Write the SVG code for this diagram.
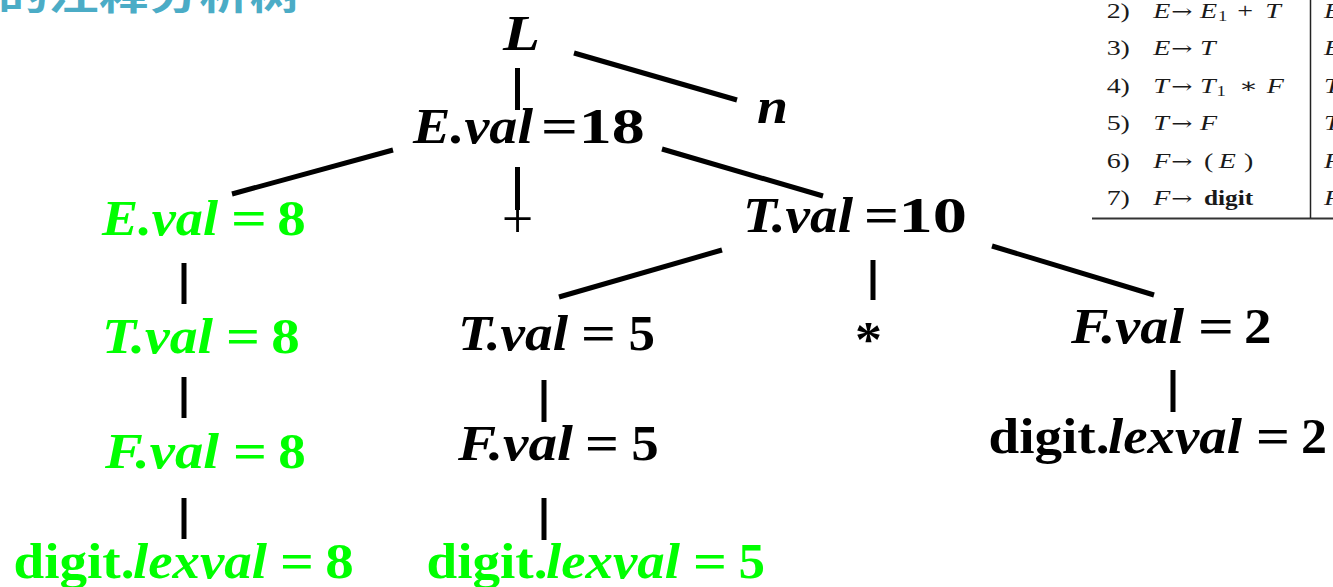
<svg xmlns="http://www.w3.org/2000/svg" width="1333" height="587" viewBox="0 0 1333 587">
<style>
.bi{font-family:"Liberation Serif","Times New Roman",serif;font-weight:bold;font-style:italic;font-size:51px}
.b{font-family:"Liberation Serif","Times New Roman",serif;font-weight:bold;font-size:51px}
.k{fill:#000}
.g{fill:#00FF00}
.edge{stroke:#000;stroke-width:5;fill:none}
.tb{font-family:"Liberation Serif","DejaVu Serif",serif;font-size:21px;fill:#1a1a1a}
.ti{font-style:italic}
.ar{font-family:"DejaVu Serif",serif;font-size:19px}
.title{font-family:"Noto Sans CJK SC","Noto Sans",sans-serif;font-weight:bold;font-size:38px;fill:#4BACC6}
</style>
<rect width="1333" height="587" fill="#fff"/>
<g id="title"><text class="title" x="-2" y="9" textLength="302" lengthAdjust="spacingAndGlyphs">的注释分析树</text></g>
<g id="grammar-table">
<line x1="1092" y1="218.5" x2="1333" y2="218.5" stroke="#333" stroke-width="2"/>
<line x1="1310.5" y1="0" x2="1310.5" y2="218" stroke="#222" stroke-width="1.5"/>
<g transform="matrix(1.3333 0 0 1 0 0)" class="tb">
<text x="830" y="18">2)</text><text class="ti" x="865" y="18">E</text><text class="ar" x="878.5" y="18">→</text><text class="ti" x="900" y="18">E</text><text x="913.5" y="21" font-size="14">1</text><text x="928" y="18">+</text><text class="ti" x="949" y="18">T</text><text class="ti" x="993" y="18">E</text>
<text x="830" y="55.4">3)</text><text class="ti" x="865" y="55.4">E</text><text class="ar" x="878.5" y="55.4">→</text><text class="ti" x="900" y="55.4">T</text><text class="ti" x="993" y="55.4">E</text>
<text x="830" y="92.8">4)</text><text class="ti" x="865" y="92.8">T</text><text class="ar" x="878.5" y="92.8">→</text><text class="ti" x="900" y="92.8">T</text><text x="912.5" y="96" font-size="14">1</text><text x="929" y="92.8">∗</text><text class="ti" x="950" y="92.8">F</text><text class="ti" x="993" y="92.8">T</text>
<text x="830" y="130.2">5)</text><text class="ti" x="865" y="130.2">T</text><text class="ar" x="878.5" y="130.2">→</text><text class="ti" x="900" y="130.2">F</text><text class="ti" x="993" y="130.2">T</text>
<text x="830" y="167.6">6)</text><text class="ti" x="865" y="167.6">F</text><text class="ar" x="878.5" y="167.6">→</text><text x="903" y="167.6">(</text><text class="ti" x="914" y="167.6">E</text><text x="933" y="167.6">)</text><text class="ti" x="993" y="167.6">F</text>
<text x="830" y="205">7)</text><text class="ti" x="865" y="205">F</text><text class="ar" x="878.5" y="205">→</text><text x="903" y="205" font-weight="bold" textLength="37" lengthAdjust="spacingAndGlyphs">digit</text><text class="ti" x="993" y="205">F</text>
</g>
</g>
<g id="connectors" class="edge">
<line x1="517.5" y1="68" x2="517.5" y2="110"/>
<line x1="574" y1="53" x2="737" y2="100"/>
<line x1="517.5" y1="167" x2="517.5" y2="210"/>
<line x1="393" y1="150" x2="232" y2="194"/>
<line x1="662" y1="149" x2="823" y2="196"/>
<line x1="184" y1="263" x2="184" y2="304"/>
<line x1="184" y1="377" x2="184" y2="418"/>
<line x1="184" y1="498" x2="184" y2="539"/>
<line x1="722" y1="250" x2="559" y2="297"/>
<line x1="873" y1="260" x2="873" y2="300"/>
<line x1="992" y1="246" x2="1154" y2="295"/>
<line x1="544" y1="380" x2="544" y2="422"/>
<line x1="544" y1="498" x2="544" y2="540"/>
<line x1="1173" y1="370" x2="1173" y2="412"/>
</g>
<g id="node-L" class="k"><text class="bi" x="503" y="50" textLength="37" lengthAdjust="spacingAndGlyphs">L</text></g>
<g id="node-n" class="k"><text class="bi" x="757" y="123" textLength="31" lengthAdjust="spacingAndGlyphs">n</text></g>
<g id="node-E18" class="k">
<text class="bi" x="413" y="143" textLength="120" lengthAdjust="spacingAndGlyphs">E.val</text>
<text class="b" x="541" y="143" textLength="37" lengthAdjust="spacingAndGlyphs">=</text>
<text class="b" x="578.7" y="143" textLength="66" lengthAdjust="spacingAndGlyphs">18</text>
</g>
<g id="node-E8" class="g">
<text class="bi" x="102" y="235" textLength="116" lengthAdjust="spacingAndGlyphs">E.val</text>
<text class="b" x="231" y="235" textLength="36" lengthAdjust="spacingAndGlyphs">=</text>
<text class="b" x="277.2" y="235" textLength="28.5" lengthAdjust="spacingAndGlyphs">8</text>
</g>
<g id="node-plus" class="k"><text x="517.5" y="238" text-anchor="middle" font-family="Liberation Serif,serif" font-size="56">+</text></g>
<g id="node-T10" class="k">
<text class="bi" x="743" y="232" textLength="110" lengthAdjust="spacingAndGlyphs">T.val</text>
<text class="b" x="864" y="232" textLength="35" lengthAdjust="spacingAndGlyphs">=</text>
<text class="b" x="898.5" y="232" textLength="68.5" lengthAdjust="spacingAndGlyphs">10</text>
</g>
<g id="node-T8" class="g">
<text class="bi" x="102" y="353" textLength="111" lengthAdjust="spacingAndGlyphs">T.val</text>
<text class="b" x="226" y="353" textLength="34" lengthAdjust="spacingAndGlyphs">=</text>
<text class="b" x="271.2" y="353" textLength="28.5" lengthAdjust="spacingAndGlyphs">8</text>
</g>
<g id="node-T5" class="k">
<text class="bi" x="458" y="350" textLength="110" lengthAdjust="spacingAndGlyphs">T.val</text>
<text class="b" x="581" y="350" textLength="35" lengthAdjust="spacingAndGlyphs">=</text>
<text class="b" x="628.4" y="350" textLength="26.5" lengthAdjust="spacingAndGlyphs">5</text>
</g>
<g id="node-star" class="k"><text class="b" x="855" y="355.5" textLength="27" lengthAdjust="spacingAndGlyphs">*</text></g>
<g id="node-F2" class="k">
<text class="bi" x="1071" y="343" textLength="113" lengthAdjust="spacingAndGlyphs">F.val</text>
<text class="b" x="1198" y="343" textLength="36" lengthAdjust="spacingAndGlyphs">=</text>
<text class="b" x="1244" y="343" textLength="27.5" lengthAdjust="spacingAndGlyphs">2</text>
</g>
<g id="node-digit2" class="k">
<text class="b" x="988.5" y="453" textLength="121" lengthAdjust="spacingAndGlyphs">digit.</text>
<text class="bi" x="1108" y="453" textLength="134" lengthAdjust="spacingAndGlyphs">lexval</text>
<text class="b" x="1256" y="453" textLength="34" lengthAdjust="spacingAndGlyphs">=</text>
<text class="b" x="1301" y="453" textLength="26" lengthAdjust="spacingAndGlyphs">2</text>
</g>
<g id="node-F8" class="g">
<text class="bi" x="105" y="468" textLength="114" lengthAdjust="spacingAndGlyphs">F.val</text>
<text class="b" x="233" y="468" textLength="34" lengthAdjust="spacingAndGlyphs">=</text>
<text class="b" x="278.3" y="468" textLength="27.5" lengthAdjust="spacingAndGlyphs">8</text>
</g>
<g id="node-F5" class="k">
<text class="bi" x="458" y="460" textLength="115" lengthAdjust="spacingAndGlyphs">F.val</text>
<text class="b" x="585" y="460" textLength="34" lengthAdjust="spacingAndGlyphs">=</text>
<text class="b" x="631.3" y="460" textLength="27.5" lengthAdjust="spacingAndGlyphs">5</text>
</g>
<g id="node-digit8" class="g">
<text class="b" x="13.5" y="578" textLength="121" lengthAdjust="spacingAndGlyphs">digit.</text>
<text class="bi" x="133" y="578" textLength="134" lengthAdjust="spacingAndGlyphs">lexval</text>
<text class="b" x="280" y="578" textLength="34" lengthAdjust="spacingAndGlyphs">=</text>
<text class="b" x="325.3" y="578" textLength="28.5" lengthAdjust="spacingAndGlyphs">8</text>
</g>
<g id="node-digit5" class="g">
<text class="b" x="426.5" y="578" textLength="121" lengthAdjust="spacingAndGlyphs">digit.</text>
<text class="bi" x="546" y="578" textLength="134" lengthAdjust="spacingAndGlyphs">lexval</text>
<text class="b" x="693" y="578" textLength="34" lengthAdjust="spacingAndGlyphs">=</text>
<text class="b" x="738.4" y="578" textLength="26.5" lengthAdjust="spacingAndGlyphs">5</text>
</g>
</svg>
